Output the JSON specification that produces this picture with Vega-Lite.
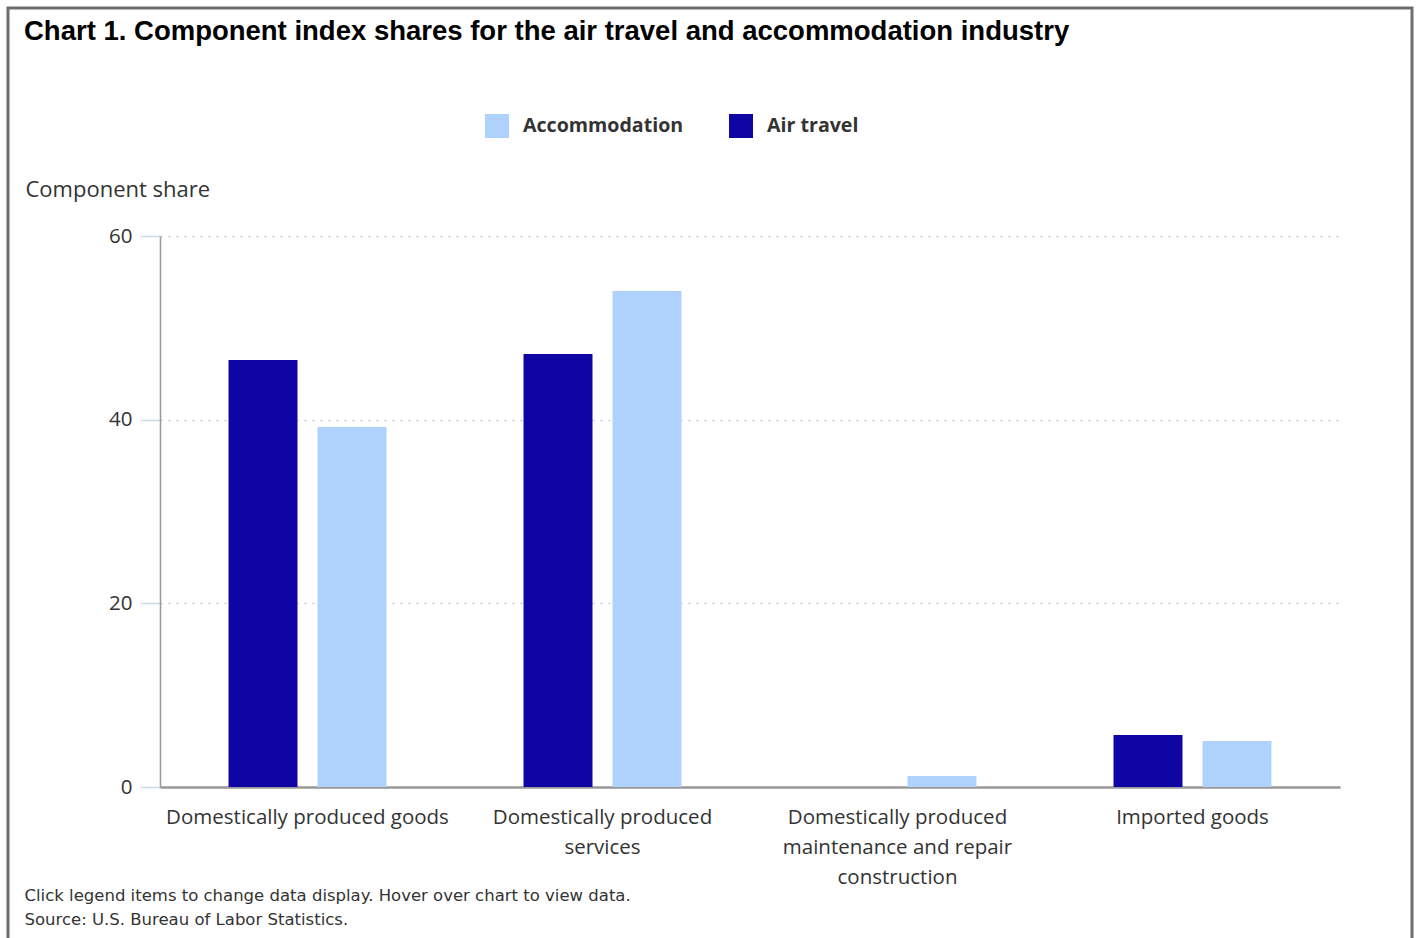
{
  "$schema": "https://vega.github.io/schema/vega-lite/v6.json",
  "width": 1404,
  "height": 936,
  "autosize": {"type": "none"},
  "padding": {"left": 8, "top": 8, "right": 5, "bottom": 0},
  "background": "white",
  "title": {
    "text": "Chart 1. Component index shares for the air travel and accommodation industry",
    "anchor": "start",
    "frame": "group",
    "font": "Liberation Sans",
    "fontSize": 27.5,
    "fontWeight": "bold",
    "color": "#000000",
    "baseline": "top",
    "offset": 0,
    "dx": 16,
    "dy": 37
  },
  "data": {
    "values": [
      {"category": "Domestically produced goods", "series": "Air travel", "value": 46.5},
      {"category": "Domestically produced goods", "series": "Accommodation", "value": 39.2},
      {"category": "Domestically produced services", "series": "Air travel", "value": 47.15},
      {"category": "Domestically produced services", "series": "Accommodation", "value": 54.0},
      {"category": "Domestically produced maintenance and repair construction", "series": "Air travel", "value": 0},
      {"category": "Domestically produced maintenance and repair construction", "series": "Accommodation", "value": 1.2},
      {"category": "Imported goods", "series": "Air travel", "value": 5.66},
      {"category": "Imported goods", "series": "Accommodation", "value": 5.0}
    ]
  },
  "mark": {"type": "bar", "tooltip": true},
  "encoding": {
    "x": {
      "field": "category",
      "type": "nominal",
      "sort": null,
      "scale": {"range": [152, 1332], "paddingInner": 0, "paddingOuter": 0},
      "axis": {
        "orient": "bottom",
        "offset": -157,
        "labelAngle": 0,
        "labelExpr": "datum.value == 'Domestically produced services' ? ['Domestically produced', 'services'] : datum.value == 'Domestically produced maintenance and repair construction' ? ['Domestically produced', 'maintenance and repair', 'construction'] : datum.value",
        "labelLineHeight": 30,
        "labelBaseline": "top",
        "labelPadding": 20,
        "labelFont": "Open Sans",
        "labelFontSize": 20.5,
        "labelColor": "#333333",
        "labelLimit": 0,
        "ticks": false,
        "grid": false,
        "domainColor": "#999999",
        "domainWidth": 2.5,
        "title": ["Click legend items to change data display. Hover over chart to view data.", "Source: U.S. Bureau of Labor Statistics."],
        "titleX": 16,
        "titleY": 100,
        "titleAlign": "left",
        "titleBaseline": "top",
        "titleLineHeight": 24,
        "titleFont": "DejaVu Sans",
        "titleFontSize": 16.5,
        "titleFontWeight": "normal",
        "titleColor": "#333333"
      }
    },
    "xOffset": {
      "field": "series",
      "type": "nominal",
      "sort": ["Air travel", "Accommodation"],
      "scale": {"paddingInner": 0.225, "paddingOuter": 0.77}
    },
    "y": {
      "field": "value",
      "type": "quantitative",
      "scale": {"domain": [0, 60], "range": [779, 228], "nice": false},
      "axis": {
        "orient": "left",
        "offset": -152,
        "values": [0, 20, 40, 60],
        "domainColor": "#999999",
        "domainWidth": 1.5,
        "tickColor": "#ccd6eb",
        "tickSize": 19,
        "tickWidth": 1.5,
        "labelPadding": 9,
        "labelFont": "Open Sans",
        "labelFontSize": 20.5,
        "labelColor": "#333333",
        "grid": true,
        "gridColor": "#cccccc",
        "gridDash": [2, 6],
        "gridWidth": 1.5,
        "title": "Component share",
        "titleAngle": 0,
        "titleAlign": "left",
        "titleBaseline": "middle",
        "titleX": -135,
        "titleY": 181,
        "titleFont": "Open Sans",
        "titleFontSize": 22,
        "titleFontWeight": "normal",
        "titleColor": "#333333"
      }
    },
    "color": {
      "field": "series",
      "type": "nominal",
      "scale": {"domain": ["Accommodation", "Air travel"], "range": ["#afd2fd", "#0f05a5"]},
      "legend": {
        "orient": "none",
        "legendX": 477,
        "legendY": 106,
        "direction": "horizontal",
        "title": null,
        "padding": 0,
        "symbolType": "square",
        "symbolSize": 576,
        "symbolStrokeWidth": 0,
        "labelOffset": 14,
        "labelLimit": 0,
        "columnPadding": 45,
        "labelFont": "Open Sans",
        "labelFontSize": 19.6,
        "labelFontWeight": "bold",
        "labelColor": "#333333"
      }
    }
  },
  "config": {
    "view": {"stroke": "#6e6e6e", "strokeWidth": 3}
  }
}
